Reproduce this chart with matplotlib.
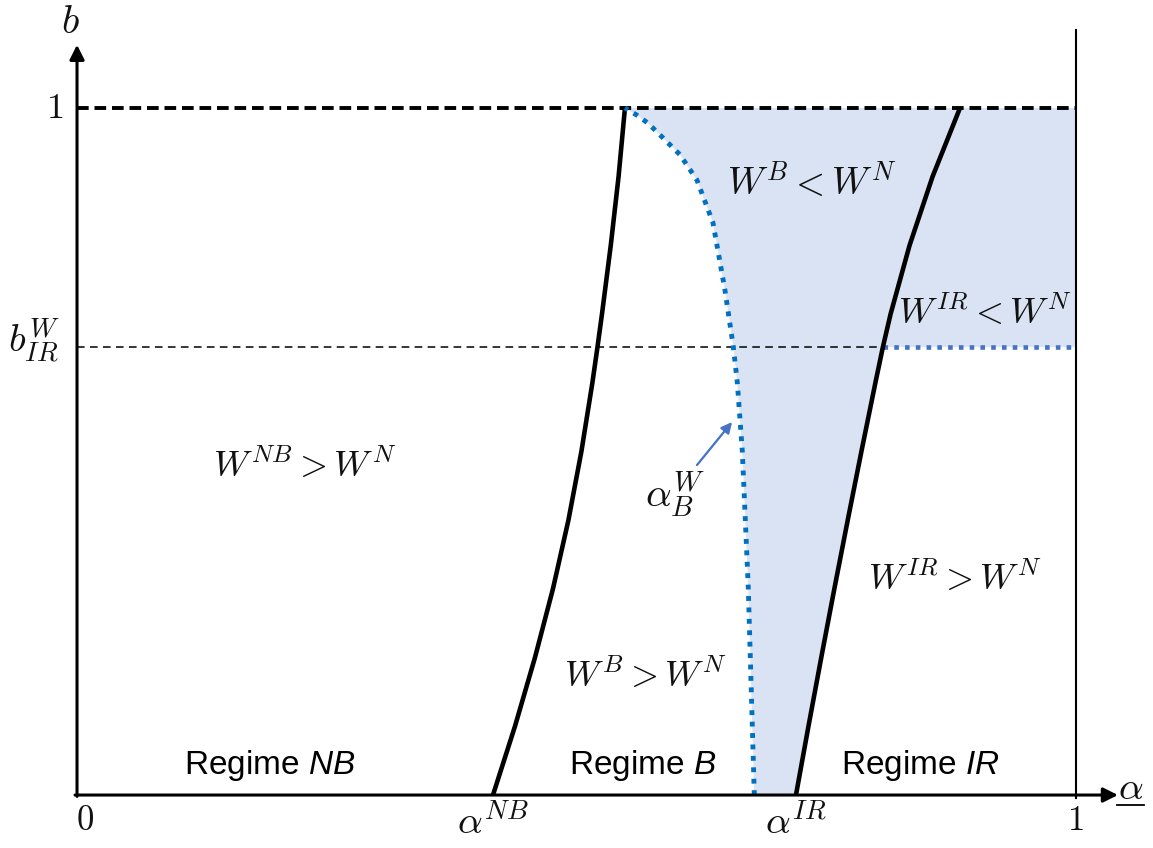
import numpy as np
import matplotlib
matplotlib.use('Agg')
import matplotlib.pyplot as plt

# Regime boundaries (alpha on x, b on y)
b_grid = [0, 0.1, 0.2, 0.3, 0.4, 0.5, 0.6, 0.652, 0.7, 0.8, 0.9, 1.0]
alpha_nb_curve = [0.4164, 0.4384, 0.4584, 0.4764, 0.4919, 0.5049, 0.5159, 0.5210, 0.5255, 0.5343,
                  0.5421, 0.5485]
alpha_ir_curve = [0.7197, 0.7322, 0.7450, 0.7581, 0.7715, 0.7852, 0.7992, 0.8067, 0.8144, 0.8334,
                  0.8564, 0.8839]

b_welfare = [0, 0.1, 0.2, 0.3, 0.4, 0.5, 0.6, 0.652, 0.735, 0.833, 0.895, 0.932, 0.958, 0.978, 0.99, 1.0]
alpha_bw_curve = [0.678, 0.676, 0.674, 0.672, 0.669, 0.666, 0.661, 0.657, 0.6486, 0.6366, 0.6206,
                  0.6036, 0.5855, 0.5715, 0.560, 0.5485]

b_ir_w = 0.652
alpha_nb = alpha_nb_curve[0]
alpha_ir = alpha_ir_curve[0]

plt.rcParams['mathtext.fontset'] = 'custom'
plt.rcParams['mathtext.rm'] = 'Liberation Sans'
plt.rcParams['mathtext.it'] = 'Liberation Sans:italic'

fig = plt.figure(figsize=(11.53, 8.48), dpi=100)
ax = fig.add_axes([0, 0, 1, 1])
ax.set_xlim(-0.0771, 1.0771)
ax.set_ylim(-0.0771, 1.1572)
ax.axis('off')

# Shaded area: welfare lower than under N
b_ir_idx = b_grid.index(b_ir_w)
poly_x = alpha_bw_curve + [1.0, 1.0] + alpha_ir_curve[:b_ir_idx + 1][::-1]
poly_y = b_welfare + [1.0, b_ir_w] + b_grid[:b_ir_idx + 1][::-1]
ax.fill(poly_x, poly_y, color='#DAE3F3', lw=0, zorder=1)

# Regime boundaries
ax.plot(alpha_nb_curve, b_grid, color='black', lw=3.3, solid_capstyle='butt',
        solid_joinstyle='round', zorder=3)
ax.plot(alpha_ir_curve, b_grid, color='black', lw=3.3, solid_capstyle='butt',
        solid_joinstyle='round', zorder=3)
ax.plot(alpha_bw_curve, b_welfare, color='#0070C0', lw=3.5, linestyle=(0, (1, 1.35)),
        dash_capstyle='butt', zorder=3)

# Horizontal reference lines
ax.plot([0, 1], [1, 1], color='black', lw=2.8, linestyle=(0, (3, 1.5)), zorder=2)
ax.plot([0, alpha_ir_curve[b_ir_idx]], [b_ir_w, b_ir_w], color='black', lw=1.1,
        linestyle=(0, (5, 3.5)), zorder=2)
ax.plot([alpha_ir_curve[b_ir_idx], 1.0], [b_ir_w, b_ir_w], color='#4472C4', lw=3.3,
        linestyle=(0, (1, 1.35)), dash_capstyle='butt', zorder=2)

# Axes with arrows and the alpha = 1 line
ax.plot([1, 1], [-0.005, 1.1135], color='black', lw=1.5, zorder=2)
ax.annotate('', xy=(0, 1.092), xytext=(0, -0.002),
            arrowprops=dict(arrowstyle='-|>', lw=2.2, color='black', mutation_scale=22,
                            shrinkA=0, shrinkB=0), zorder=4)
ax.annotate('', xy=(1.042, 0), xytext=(-0.002, 0),
            arrowprops=dict(arrowstyle='-|>', lw=2.2, color='black', mutation_scale=22,
                            shrinkA=0, shrinkB=0), zorder=4)

# Pointer to the alpha_B^W curve
ax.annotate('', xy=(0.6557, 0.5429), xytext=(0.6206, 0.4803),
            arrowprops=dict(arrowstyle='-|>', lw=1.6, color='#4472C4', mutation_scale=16,
                            shrinkA=0, shrinkB=0), zorder=4)

cm = dict(math_fontfamily='cm', ha='center', va='center', color='#111111')
ax.text(-0.007, 1.125, r'$b$', fontsize=29, **cm)
ax.text(-0.022, 1.0, r'$1$', fontsize=26, **cm)
ax.text(-0.043, 0.662, r'$b^W_{IR}$', fontsize=28, **cm)
ax.text(0.008, -0.037, r'$0$', fontsize=25, **cm)
ax.text(0.999, -0.037, r'$1$', fontsize=25, **cm)
ax.text(alpha_nb, -0.040, r'$\alpha^{NB}$', fontsize=28, **cm)
ax.text(alpha_ir, -0.040, r'$\alpha^{IR}$', fontsize=28, **cm)
ax.text(1.055, 0.010, r'$\alpha$', fontsize=28, **cm)
ax.plot([1.041, 1.068], [-0.0146, -0.0146], color='black', lw=1.3)

ax.text(0.2282, 0.4803, r'$W^{NB} > W^N$', fontsize=26, **cm)
ax.text(0.7357, 0.8908, r'$W^B < W^N$', fontsize=27, **cm)
ax.text(0.9089, 0.7016, r'$W^{IR} < W^N$', fontsize=26, **cm)
ax.text(0.5986, 0.4367, r'$\alpha^W_B$', fontsize=29, **cm)
ax.text(0.8789, 0.3159, r'$W^{IR} > W^N$', fontsize=26, **cm)
ax.text(0.5686, 0.1747, r'$W^B > W^N$', fontsize=26, **cm)

sans = dict(family='Liberation Sans', fontsize=24, ha='center', va='center')
ax.text(0.1932, 0.0437, r'Regime $\mathit{NB}$', **sans)
ax.text(0.5666, 0.0437, r'Regime $\mathit{B}$', **sans)
ax.text(0.8438, 0.0437, r'Regime $\mathit{IR}$', **sans)

fig.savefig('out.png', dpi=100)
